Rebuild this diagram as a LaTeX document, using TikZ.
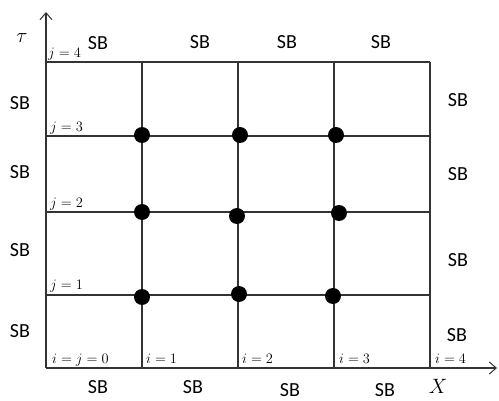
\documentclass[tikz,border=0pt]{standalone}
\usepackage{fontspec}
\newfontfamily\sbfont{Carlito}
\usetikzlibrary{arrows.meta}
\begin{document}
\begin{tikzpicture}[x=1pt,y=-1pt,
  gridline/.style={draw=black!80,line width=1.1pt},
  axisline/.style={draw=black!80,line width=1.1pt,-{Straight Barb[length=7pt,width=12pt,line width=1pt]}},
  sb/.style={font=\sbfont\fontsize{20}{22}\selectfont,inner sep=0pt},
  lab/.style={font=\fontsize{15}{16}\selectfont,inner sep=0pt,anchor=base west},
  dot/.style={circle,fill=black,minimum size=16pt,inner sep=0pt}]
\useasboundingbox (0,0) rectangle (499,401);
% grid coordinates
\coordinate (o) at (46,368);
\coordinate (xend) at (497,368);
\coordinate (yend) at (46,12);
\foreach \x [count=\i] in {142,238,334,430}{
  \coordinate (b\i) at (\x,368);
  \coordinate (t\i) at (\x,62);
}
\foreach \y [count=\j] in {295,212,136,62}{
  \coordinate (l\j) at (46,\y);
  \coordinate (r\j) at (430,\y);
}
% axes
\draw[axisline] (o) -- (xend);
\draw[axisline] (o) -- (yend);
% grid lines
\foreach \i in {1,...,4}{ \draw[gridline] (b\i) -- (t\i); }
\foreach \j in {1,...,4}{ \draw[gridline] (l\j) -- (r\j); }
% dots
\node[dot] (d11) at (142,297) {};
\node[dot] (d21) at (239,294) {};
\node[dot] (d31) at (333,296) {};
\node[dot] (d12) at (142,212) {};
\node[dot] (d22) at (237,216) {};
\node[dot] (d32) at (339,213) {};
\node[dot] (d13) at (142,135) {};
\node[dot] (d23) at (240,135) {};
\node[dot] (d33) at (336,135) {};
% SB labels
\node[sb] (st1) at (98,43) {SB};
\node[sb] (st2) at (200,42) {SB};
\node[sb] (st3) at (287,42) {SB};
\node[sb] (st4) at (381,42) {SB};
\node[sb] (sl1) at (20,103) {SB};
\node[sb] (sl2) at (20,172) {SB};
\node[sb] (sl3) at (20,250) {SB};
\node[sb] (sl4) at (20,331) {SB};
\node[sb] (sr1) at (458,100) {SB};
\node[sb] (sr2) at (458,174) {SB};
\node[sb] (sr3) at (458,260) {SB};
\node[sb] (sr4) at (457,335) {SB};
\node[sb] (sd1) at (98,387) {SB};
\node[sb] (sd2) at (193,387) {SB};
\node[sb] (sd3) at (290,390) {SB};
\node[sb] (sd4) at (385,390) {SB};
% axis labels
\node[inner sep=0pt,font=\fontsize{20}{22}\selectfont] (tau) at (22,38) {$\tau$};
\node[inner sep=0pt,font=\fontsize{20}{22}\selectfont] (xl) at (438,386) {$X$};
% index labels
\node[lab] (j4) at (48,58) {$j=4$};
\node[lab] (j3) at (50,132) {$j=3$};
\node[lab] (j2) at (50,208) {$j=2$};
\node[lab] (j1) at (50,290) {$j=1$};
\node[lab] (i0) at (52,364) {$i=j=0$};
\node[lab] (i1) at (146,364) {$i=1$};
\node[lab] (i2) at (242,364) {$i=2$};
\node[lab] (i3) at (339,364) {$i=3$};
\node[lab] (i4) at (435,364) {$i=4$};
\end{tikzpicture}
\end{document}
